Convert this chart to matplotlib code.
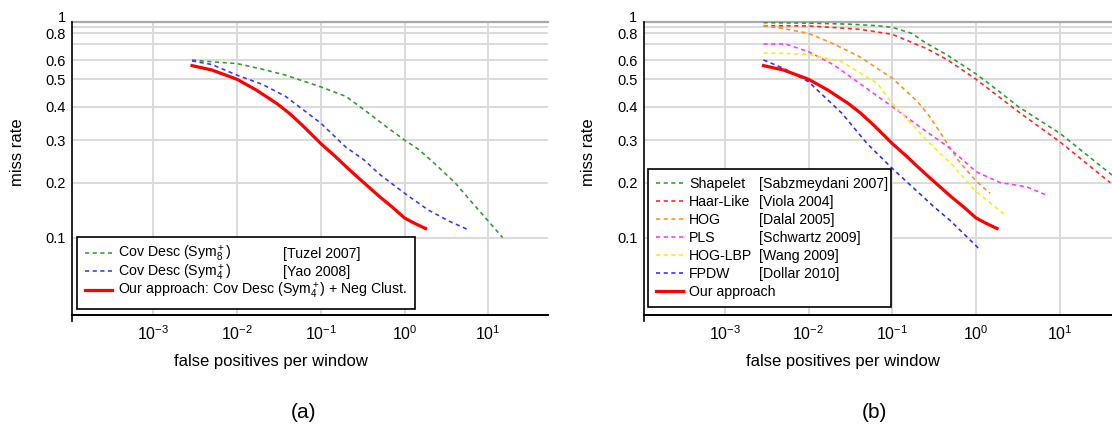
import numpy as np
import matplotlib
matplotlib.use("Agg")
import matplotlib.pyplot as plt
from matplotlib.patches import Rectangle
from matplotlib.ticker import FixedLocator, NullLocator

plt.rcParams['font.family'] = ['Liberation Sans', 'DejaVu Sans']
plt.rcParams['mathtext.fontset'] = 'custom'
plt.rcParams['mathtext.rm'] = 'Liberation Sans'
plt.rcParams['mathtext.it'] = 'Liberation Sans:italic'
plt.rcParams['mathtext.bf'] = 'Liberation Sans:bold'

# ---- curves: false positives per window / miss rate ----
ours_fppi = [0.0029, 0.005, 0.01, 0.017, 0.03, 0.042, 0.06, 0.1, 0.15, 0.2, 0.27,
             0.5, 0.7, 1.0, 1.3, 1.78]
ours_miss = [0.569, 0.546, 0.5, 0.458, 0.41, 0.378, 0.341, 0.29, 0.256, 0.233, 0.212,
             0.168, 0.148, 0.128, 0.12, 0.112]

tuzel_fppi = [0.0029, 0.005, 0.01, 0.02, 0.038, 0.1, 0.2, 0.4, 0.6, 1.0, 1.5, 2.5,
              4.0, 6.0, 10.0, 14.8]
tuzel_miss = [0.6, 0.59, 0.58, 0.55, 0.52, 0.47, 0.435, 0.372, 0.337, 0.3, 0.273,
              0.233, 0.2, 0.161, 0.123, 0.1]

yao_fppi = [0.0029, 0.005, 0.01, 0.02, 0.038, 0.1, 0.2, 0.33, 0.5, 1.0, 1.9, 3.4, 5.6]
yao_miss = [0.595, 0.575, 0.52, 0.48, 0.435, 0.347, 0.28, 0.248, 0.217, 0.175, 0.142,
            0.123, 0.111]

shapelet_fppi = [0.0029, 0.01, 0.03, 0.066, 0.1, 0.17, 0.25, 0.45, 1.0, 1.9, 3.2,
                 10.0, 42.0]
shapelet_miss = [0.98, 0.97, 0.95, 0.92, 0.89, 0.8, 0.71, 0.63, 0.526, 0.452, 0.4,
                 0.318, 0.215]

haar_fppi = [0.0029, 0.01, 0.0405, 0.1, 0.256, 0.46, 1.0, 3.2, 10.0, 40.0]
haar_miss = [0.92, 0.915, 0.86, 0.79, 0.67, 0.6, 0.5, 0.383, 0.295, 0.2]

hog_fppi = [0.0029, 0.005, 0.01, 0.02, 0.0405, 0.1, 0.2, 0.282, 0.61, 1.0, 1.47]
hog_miss = [0.92, 0.87, 0.8, 0.7, 0.62, 0.505, 0.417, 0.366, 0.248, 0.203, 0.175]

pls_fppi = [0.0029, 0.0053, 0.01, 0.02, 0.0405, 0.1, 0.2, 0.457, 1.0, 1.96, 4.0, 6.9]
pls_miss = [0.7, 0.7, 0.65, 0.573, 0.484, 0.4, 0.341, 0.282, 0.222, 0.2, 0.19, 0.171]

hoglbp_fppi = [0.0029, 0.005, 0.01, 0.025, 0.066, 0.1, 0.256, 0.5, 1.0, 2.27]
hoglbp_miss = [0.642, 0.64, 0.634, 0.59, 0.484, 0.411, 0.3, 0.24, 0.179, 0.132]

fpdw_fppi = [0.0029, 0.005, 0.01, 0.025, 0.05, 0.1, 0.311, 0.5, 1.0, 1.12]
fpdw_miss = [0.6, 0.555, 0.49, 0.378, 0.29, 0.229, 0.148, 0.123, 0.09, 0.085]

names_a = ["Cov Desc (Sym$_8^+$)", "Cov Desc (Sym$_4^+$)",
           "Our approach: Cov Desc (Sym$_4^+$) + Neg Clust."]
cites_a = ["[Tuzel 2007]", "[Yao 2008]", ""]

names_b = ["Shapelet", "Haar-Like", "HOG", "PLS", "HOG-LBP", "FPDW", "Our approach"]
cites_b = ["[Sabzmeydani 2007]", "[Viola 2004]", "[Dalal 2005]",
           "[Schwartz 2009]", "[Wang 2009]", "[Dollar 2010]", ""]

x_ticks = [1e-3, 1e-2, 1e-1, 1, 10]
y_ticks = [0.1, 0.2, 0.3, 0.4, 0.5, 0.6, 0.8, 1.0]
y_ticklabels = ["0.1", "0.2", "0.3", "0.4", "0.5", "0.6", "0.8", "1"]
y_minor = [0.7, 0.9]

# the source y axis is not a clean log axis, so the scale follows the
# measured gridline heights (pixels from the top) and interpolates in between
grid_vals = [0.001, 0.0375, 0.1, 0.2, 0.3, 0.4, 0.5, 0.6, 0.7, 0.8, 0.9, 1.0, 2.0]
grid_px = [601.6, 315, 237.5, 182.7, 140, 106.7, 79.3, 60, 44, 33.3, 26.7, 21.7, -11.4]
_lg = np.log10(grid_vals)
_neg = -np.array(grid_px)


def fwd(v):
    v = np.clip(np.asarray(v, dtype=float), 1e-6, None)
    return np.interp(np.log10(v), _lg, _neg)


def inv(p):
    return 10 ** np.interp(p, _neg, _lg)


W, H = 1112, 428
fig = plt.figure(figsize=(W / 100, H / 100), dpi=100)
FS_LEG = 10.2


def px_axes(x0, y_top, w, y_bot):
    return fig.add_axes([x0 / W, 1 - y_bot / H, w / W, (y_bot - y_top) / H])


def style_axes(ax):
    ax.set_xscale('log')
    ax.set_yscale('function', functions=(fwd, inv))
    ax.set_xlim(1.07e-4, 51.6)
    ax.set_ylim(0.0375, 1.0)
    ax.xaxis.set_major_locator(FixedLocator(x_ticks))
    ax.xaxis.set_minor_locator(NullLocator())
    ax.set_yticks(y_ticks)
    ax.set_yticklabels(y_ticklabels)
    ax.set_yticks(y_minor, minor=True)
    ax.tick_params(which='both', length=0)
    ax.tick_params(axis='y', labelsize=10.5, pad=4.5)
    ax.tick_params(axis='x', labelsize=11.5, pad=7)
    ax.yaxis.get_major_ticks()[-1].label1.set_verticalalignment('baseline')
    ax.grid(True, which='both', color='#dadada', lw=1.4)
    ax.set_axisbelow(True)
    for s in ['top', 'right', 'left']:
        ax.spines[s].set_visible(False)
    ax.spines['bottom'].set_linewidth(1.4)
    ax.axhline(1.0, color='#a8a8a8', lw=1.6, clip_on=False, zorder=1)
    ax.plot([0, 0], [-0.02, 1], transform=ax.transAxes, color='black',
            lw=1.2, clip_on=False)
    ax.set_xlabel("false positives per window", fontsize=12, va='center')
    ax.xaxis.set_label_coords(0.418, -0.159)
    ax.set_ylabel("miss rate", fontsize=12, va='center')
    ax.yaxis.set_label_coords(-0.115, 0.556)


def boxed_legend(ax, handles, names, cites, anchor, x_cite, spacing, right_pad):
    # legend for the name column, citations placed beside it, one frame round both
    leg = ax.legend(handles, names, loc='lower left', bbox_to_anchor=anchor,
                    borderaxespad=0, fontsize=FS_LEG, handlelength=1.9,
                    handletextpad=0.45, borderpad=0.55, labelspacing=spacing,
                    frameon=False)
    leg.set_zorder(6)
    fig.canvas.draw()
    r = fig.canvas.get_renderer()
    to_ax = ax.transAxes.inverted()
    right = leg.get_window_extent(r).x1
    for txt, cite in zip(leg.get_texts(), cites):
        if not cite:
            continue
        # legend labels are baseline anchored, so share that baseline
        base = txt.get_transform().transform(txt.get_position())[1]
        y = to_ax.transform((0, base))[1]
        t = ax.text(x_cite, y, cite, transform=ax.transAxes, va='baseline',
                    fontsize=FS_LEG, zorder=7)
        right = max(right, t.get_window_extent(r).x1 + right_pad)
    lb = leg.get_window_extent(r)
    x0, y0 = to_ax.transform((lb.x0, lb.y0))
    x1, y1 = to_ax.transform((right, lb.y1))
    ax.add_patch(Rectangle((x0, y0), x1 - x0, y1 - y0, transform=ax.transAxes,
                           facecolor='white', edgecolor='black', lw=1.2,
                           zorder=5, clip_on=False))


dash = dict(lw=1.15, dashes=(2.6, 2.2))

# ---------------- (a) ----------------
ax_a = px_axes(72, 21.7, 476, 315)
style_axes(ax_a)
la1, = ax_a.plot(tuzel_fppi, tuzel_miss, color='#2e9a2e', **dash)
la2, = ax_a.plot(yao_fppi, yao_miss, color='#3535ff', **dash)
la3, = ax_a.plot(ours_fppi, ours_miss, color='red', lw=2.3)

# ---------------- (b) ----------------
ax_b = px_axes(643.5, 21.7, 476, 315)
style_axes(ax_b)
lb = []
for xs, ys, c in [(shapelet_fppi, shapelet_miss, '#2e9a2e'),
                  (haar_fppi, haar_miss, '#ff2020'),
                  (hog_fppi, hog_miss, '#ff8c1a'),
                  (pls_fppi, pls_miss, '#ff33ff'),
                  (hoglbp_fppi, hoglbp_miss, '#f2f200'),
                  (fpdw_fppi, fpdw_miss, '#2a2aff')]:
    l, = ax_b.plot(xs, ys, color=c, **dash)
    lb.append(l)
l, = ax_b.plot(ours_fppi, ours_miss, color='red', lw=2.3)
lb.append(l)

boxed_legend(ax_a, [la1, la2, la3], names_a, cites_a, (0.0105, 0.0205),
             0.443, -0.11, 5)
boxed_legend(ax_b, lb, names_b, cites_b, (0.0095, 0.027), 0.2426, 0.29, 3)

fig.text(303 / W, 1 - 413 / H, "(a)", ha='center', va='center', fontsize=15)
fig.text(874.5 / W, 1 - 413 / H, "(b)", ha='center', va='center', fontsize=15)

fig.savefig("out.png", dpi=100)
